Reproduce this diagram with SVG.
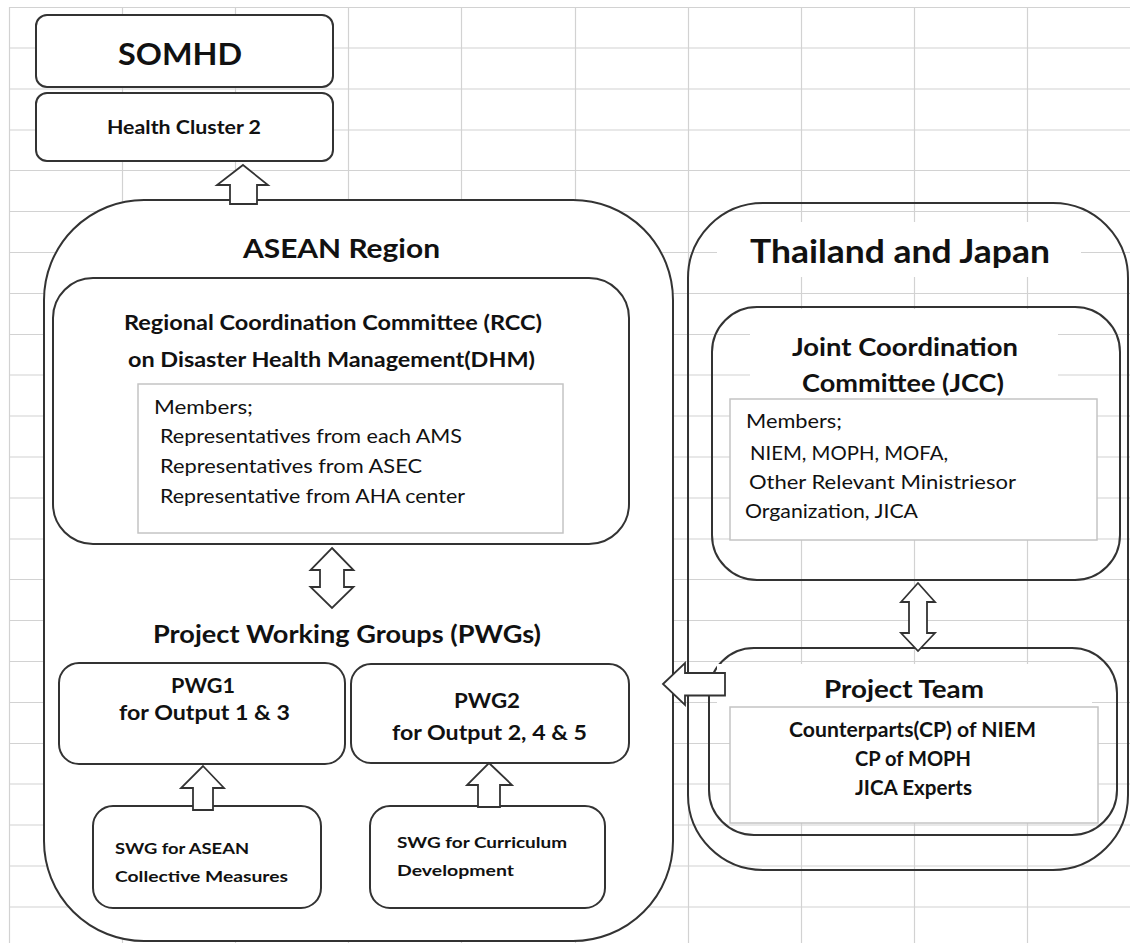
<svg xmlns="http://www.w3.org/2000/svg" width="1130" height="943" viewBox="0 0 1130 943">
<style>
.grid{stroke:#d2d2d2;stroke-width:1.2;fill:none}
.box{fill:#fff;stroke:#333;stroke-width:2}
.open{fill:none;stroke:#333;stroke-width:2}
.tbg{fill:#fff;stroke:none}
.mem{fill:#fff;stroke:#c4c4c4;stroke-width:1.5}
.arr{fill:#fff;stroke:#333;stroke-width:1.8;stroke-linejoin:miter}
text{font-family:Lato,"Open Sans","Liberation Sans",sans-serif;fill:#111}
.b{font-weight:bold}
.c{text-anchor:middle}
</style>
<rect width="1130" height="943" fill="#fff"/>
<g id="grid">
<path class="grid" d="M9.5 7V943M122.5 7V943M235.5 7V943M348.5 7V943M461.5 7V943M575.5 7V943M688.5 7V943M801.5 7V943M914.5 7V943M1027.5 7V943M9.5 7.5H1130M9.5 48H1130M9.5 89H1130M9.5 130H1130M9.5 170.5H1130M9.5 211.5H1130M9.5 252.5H1130M9.5 293.5H1130M9.5 334.5H1130M9.5 375H1130M9.5 416H1130M9.5 457H1130M9.5 498H1130M9.5 539H1130M9.5 579.5H1130M9.5 620.5H1130M9.5 661.5H1130M9.5 702.5H1130M9.5 743.5H1130M9.5 784H1130M9.5 825H1130M9.5 866H1130M9.5 907H1130"/>
</g>
<g id="somhd">
<rect class="box" x="36" y="15" width="297" height="72" rx="11"/>
<text class="b c" x="180" y="65" font-size="30" textLength="124" lengthAdjust="spacingAndGlyphs">SOMHD</text>
</g>
<g id="health-cluster">
<rect class="box" x="36" y="93" width="297" height="68" rx="11"/>
<text class="b c" x="184" y="134" font-size="18" textLength="154" lengthAdjust="spacingAndGlyphs">Health Cluster 2</text>
</g>
<g id="asean">
<rect class="box" x="44" y="200" width="629" height="741" rx="100"/>
<text class="b c" x="341.5" y="258" font-size="27" textLength="197" lengthAdjust="spacingAndGlyphs">ASEAN Region</text>
</g>
<g id="rcc">
<rect class="box" x="53" y="278" width="576" height="266" rx="40"/>
<text class="b c" x="333" y="330" font-size="21" textLength="418" lengthAdjust="spacingAndGlyphs">Regional Coordination Committee (RCC)</text>
<text class="b c" x="331.5" y="367" font-size="21" textLength="407" lengthAdjust="spacingAndGlyphs">on Disaster Health Management(DHM)</text>
<rect class="mem" x="138" y="384" width="425" height="149"/>
<text x="154" y="414" font-size="20" textLength="99" lengthAdjust="spacingAndGlyphs">Members;</text>
<text x="160" y="443" font-size="20" textLength="302" lengthAdjust="spacingAndGlyphs">Representatives from each AMS</text>
<text x="160" y="473" font-size="20" textLength="262" lengthAdjust="spacingAndGlyphs">Representatives from ASEC</text>
<text x="160" y="503" font-size="20" textLength="305" lengthAdjust="spacingAndGlyphs">Representative from AHA center</text>
</g>
<g id="pwgs-title">
<text class="b c" x="347" y="643" font-size="24" textLength="388" lengthAdjust="spacingAndGlyphs">Project Working Groups (PWGs)</text>
</g>
<g id="pwg1">
<rect class="box" x="59" y="663" width="286" height="101" rx="20"/>
<text class="b c" x="203" y="693" font-size="20" textLength="64" lengthAdjust="spacingAndGlyphs">PWG1</text>
<text class="b c" x="204.5" y="720" font-size="20" textLength="171" lengthAdjust="spacingAndGlyphs">for Output 1 &amp; 3</text>
</g>
<g id="pwg2">
<rect class="box" x="351" y="664" width="278" height="99" rx="20"/>
<text class="b c" x="487" y="708" font-size="20" textLength="66" lengthAdjust="spacingAndGlyphs">PWG2</text>
<text class="b c" x="489.5" y="740" font-size="20" textLength="195" lengthAdjust="spacingAndGlyphs">for Output 2, 4 &amp; 5</text>
</g>
<g id="swg1">
<rect class="box" x="93" y="806" width="228" height="102" rx="20"/>
<text class="b" x="115" y="854" font-size="14.5" textLength="134" lengthAdjust="spacingAndGlyphs">SWG for ASEAN</text>
<text class="b" x="115" y="882" font-size="14.5" textLength="173" lengthAdjust="spacingAndGlyphs">Collective Measures</text>
</g>
<g id="swg2">
<rect class="box" x="370" y="806" width="235" height="102" rx="20"/>
<text class="b" x="397" y="848" font-size="14.5" textLength="170" lengthAdjust="spacingAndGlyphs">SWG for Curriculum</text>
<text class="b" x="397" y="876" font-size="14.5" textLength="117" lengthAdjust="spacingAndGlyphs">Development</text>
</g>
<g id="thailand-japan">
<rect class="open" x="688" y="203" width="440" height="667" rx="75"/>
<rect class="tbg" x="717" y="222" width="364" height="55"/>
<text class="b c" x="900" y="263" font-size="32" textLength="300" lengthAdjust="spacingAndGlyphs">Thailand and Japan</text>
</g>
<g id="jcc">
<rect class="open" x="712" y="307" width="408" height="273" rx="45"/>
<rect class="tbg" x="750" y="309" width="308" height="92"/>
<text class="b c" x="905" y="356" font-size="24" textLength="226" lengthAdjust="spacingAndGlyphs">Joint Coordination</text>
<text class="b c" x="903" y="392" font-size="24" textLength="202" lengthAdjust="spacingAndGlyphs">Committee (JCC)</text>
<rect class="mem" x="730" y="399" width="367" height="141"/>
<text x="746" y="428" font-size="19" textLength="96" lengthAdjust="spacingAndGlyphs">Members;</text>
<text x="750" y="460" font-size="19" textLength="198" lengthAdjust="spacingAndGlyphs">NIEM, MOPH, MOFA,</text>
<text x="749" y="489" font-size="19" textLength="267" lengthAdjust="spacingAndGlyphs">Other Relevant Ministriesor</text>
<text x="745" y="518" font-size="19" textLength="173" lengthAdjust="spacingAndGlyphs">Organization, JICA</text>
</g>
<g id="project-team">
<rect class="open" x="709" y="648" width="408" height="187" rx="45"/>
<rect class="tbg" x="717" y="664" width="375" height="43"/>
<text class="b c" x="904" y="698" font-size="24" textLength="160" lengthAdjust="spacingAndGlyphs">Project Team</text>
<rect class="mem" x="730" y="707" width="368" height="116"/>
<text class="b c" x="912.5" y="737" font-size="21" textLength="247" lengthAdjust="spacingAndGlyphs">Counterparts(CP) of NIEM</text>
<text class="b c" x="913" y="766" font-size="21" textLength="116" lengthAdjust="spacingAndGlyphs">CP of MOPH</text>
<text class="b c" x="913.5" y="795" font-size="21" textLength="117" lengthAdjust="spacingAndGlyphs">JICA Experts</text>
</g>
<g id="connectors">
<polygon class="arr" points="243,165 268,185 257,185 257,204 230,204 230,185 217,185"/>
<polygon class="arr" points="332,548 353.5,570 344,570 344,587 353.5,587 332,608 310.5,587 320,587 320,570 310.5,570"/>
<polygon class="arr" points="203,766 224,788 213,788 213,810 193,810 193,788 181,788"/>
<polygon class="arr" points="489,763 512,785 500,785 500,807 478,807 478,785 467,785"/>
<polygon class="arr" points="918,583 935,602 927,602 927,633 935,633 918,651 901,633 909,633 909,602 901,602"/>
<polygon class="arr" points="663,684 685,663 685,673 725,673 725,695.5 685,695.5 685,705"/>
</g>
</svg>
